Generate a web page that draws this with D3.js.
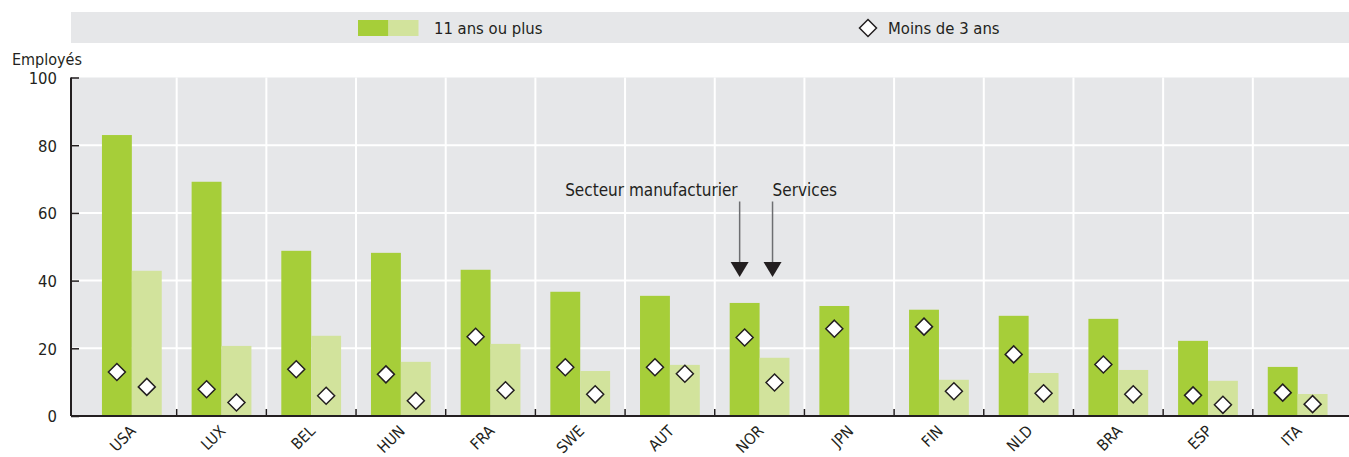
<!DOCTYPE html>
<html>
<head>
<meta charset="utf-8">
<script src="https://cdn.jsdelivr.net/npm/d3@7"></script>
<style>
  html, body { margin: 0; padding: 0; background: #fff; }
  svg { display: block; }
  text { font-family: "Liberation Sans Narrow", "Arial Narrow", "DejaVu Sans Condensed", sans-serif; fill: #231f20; }
</style>
</head>
<body>
<svg id="chart" width="1349" height="457"></svg>
<script>
const categories = ["USA","LUX","BEL","HUN","FRA","SWE","AUT","NOR","JPN","FIN","NLD","BRA","ESP","ITA"];
// 11 ans ou plus
const manuf11 = [83.0, 69.2, 48.8, 48.2, 43.2, 36.7, 35.5, 33.4, 32.5, 31.4, 29.6, 28.7, 22.2, 14.5];
const serv11  = [42.9, 20.7, 23.7, 16.0, 21.3, 13.3, 15.1, 17.2, null, 10.7, 12.7, 13.6, 10.4, 6.5];
// Moins de 3 ans
const manuf3  = [13.0, 7.9, 13.8, 12.3, 23.4, 14.4, 14.4, 23.2, 25.8, 26.4, 18.2, 15.2, 6.1, 6.9];
const serv3   = [8.6, 4.0, 6.0, 4.5, 7.6, 6.4, 12.5, 9.9, null, 7.3, 6.7, 6.4, 3.3, 3.5];
const yTicks = [0, 20, 40, 60, 80, 100];
const legendLabels = ["11 ans ou plus", "Moins de 3 ans"];
const yAxisTitle = "Employés";
const annoLabels = ["Secteur manufacturier", "Services"];

const W = 1349, H = 457;
const plotLeft = 71, plotRight = 1349, plotTop = 77.5, plotBottom = 416;
const cDark = "#a6ce39", cLight = "#d2e39c", bg = "#e6e7e9", ink = "#231f20";

const svg = d3.select("#chart");

const x = d3.scaleBand().domain(categories).range([87, 1342.5]).paddingInner(0).paddingOuter(0);
const sub = d3.scaleBand().domain(["m","s"]).range([0, x.bandwidth()]).paddingInner(0).paddingOuter(0.5);
const y = d3.scaleLinear().domain([0, 100]).range([plotBottom, plotTop]);

// legend
svg.append("rect").attr("x", plotLeft).attr("y", 12).attr("width", W - plotLeft).attr("height", 31).attr("fill", bg);
svg.append("rect").attr("x", 358).attr("y", 20).attr("width", 30.5).attr("height", 16).attr("fill", cDark);
svg.append("rect").attr("x", 388.5).attr("y", 20).attr("width", 30).attr("height", 16).attr("fill", cLight);
svg.append("text").attr("x", 434).attr("y", 34).attr("font-size", 16.5).text(legendLabels[0]);
const dsz = 8.5;
const diamond = `M0,${-dsz}L${dsz},0L0,${dsz}L${-dsz},0Z`;
svg.append("path").attr("d", diamond).attr("transform", "translate(868,28)")
  .attr("fill", "#fff").attr("stroke", ink).attr("stroke-width", 1.5);
svg.append("text").attr("x", 888).attr("y", 34).attr("font-size", 16.5).text(legendLabels[1]);

// plot background
svg.append("rect").attr("x", plotLeft).attr("y", plotTop).attr("width", plotRight - plotLeft).attr("height", plotBottom - plotTop).attr("fill", bg);

// grid
svg.append("g").selectAll("line").data(yTicks.filter(d => d > 0 && d < 100)).join("line")
  .attr("x1", plotLeft).attr("x2", plotRight).attr("y1", d => y(d)).attr("y2", d => y(d))
  .attr("stroke", "#fff").attr("stroke-width", 2);
svg.append("g").selectAll("line").data(categories.slice(1)).join("line")
  .attr("x1", d => x(d)).attr("x2", d => x(d)).attr("y1", plotTop).attr("y2", plotBottom)
  .attr("stroke", "#fff").attr("stroke-width", 2);

// bars
const bars = svg.append("g");
categories.forEach((c, i) => {
  bars.append("rect").attr("x", x(c) + sub("m")).attr("width", sub.bandwidth())
    .attr("y", y(manuf11[i])).attr("height", y(0) - y(manuf11[i])).attr("fill", cDark);
  if (serv11[i] != null) {
    bars.append("rect").attr("x", x(c) + sub("s")).attr("width", sub.bandwidth())
      .attr("y", y(serv11[i])).attr("height", y(0) - y(serv11[i])).attr("fill", cLight);
  }
});

// diamonds
const dg = svg.append("g");
categories.forEach((c, i) => {
  const pts = [["m", manuf3[i]], ["s", serv3[i]]];
  pts.forEach(([k, v]) => {
    if (v == null) return;
    dg.append("path").attr("d", diamond)
      .attr("transform", `translate(${x(c) + sub(k) + sub.bandwidth() / 2},${y(v)})`)
      .attr("fill", "#fff").attr("stroke", ink).attr("stroke-width", 1.5);
  });
});

// y axis
const yAxis = d3.axisLeft(y).tickValues(yTicks).tickSize(-8).tickPadding(14).tickFormat(d3.format("d"));
const ya = svg.append("g").attr("transform", `translate(${plotLeft},0)`).call(yAxis);
ya.attr("font-family", null);
ya.select(".domain").attr("stroke", ink).attr("stroke-width", 2).attr("d", `M0,${plotTop}V${plotBottom}`);
ya.selectAll(".tick line").attr("stroke", ink).attr("stroke-width", 1.5);
ya.selectAll(".tick text").attr("font-size", 16.5).attr("fill", ink).attr("dy", "0.36em");
svg.append("text").attr("x", 12).attr("y", 65).attr("font-size", 16).text(yAxisTitle);

// x axis
svg.append("line").attr("x1", plotLeft).attr("x2", plotRight).attr("y1", plotBottom).attr("y2", plotBottom)
  .attr("stroke", ink).attr("stroke-width", 2);
svg.append("g").selectAll("line").data(categories.slice(1)).join("line")
  .attr("x1", d => x(d)).attr("x2", d => x(d)).attr("y1", plotBottom).attr("y2", plotBottom - 7)
  .attr("stroke", ink).attr("stroke-width", 1.5);
svg.append("g").selectAll("text").data(categories).join("text")
  .attr("transform", d => `translate(${x(d) + x.bandwidth() / 2 + 5},${plotBottom + 16}) rotate(-45)`)
  .attr("text-anchor", "end").attr("font-size", 15.5).text(d => d);

// annotation
const nor = "NOR";
const ax1 = x(nor) + sub("m") + sub.bandwidth() / 2 - 5;
const ax2 = x(nor) + sub("s") + sub.bandwidth() / 2 - 2;
svg.append("text").attr("x", ax1 - 2).attr("y", 196).attr("text-anchor", "end").attr("font-size", 17).text(annoLabels[0]);
svg.append("text").attr("x", ax2).attr("y", 196).attr("font-size", 17).text(annoLabels[1]);
const tipY = y(41.1), headTop = tipY - 15, lineTop = 201.5;
[ax1, ax2].forEach(ax => {
  svg.append("line").attr("x1", ax).attr("x2", ax).attr("y1", lineTop).attr("y2", headTop + 2)
    .attr("stroke", "#6d6e71").attr("stroke-width", 1.5);
  svg.append("path").attr("d", `M${ax - 9},${headTop}L${ax + 9},${headTop}L${ax},${tipY}Z`).attr("fill", ink);
});
</script>
</body>
</html>
